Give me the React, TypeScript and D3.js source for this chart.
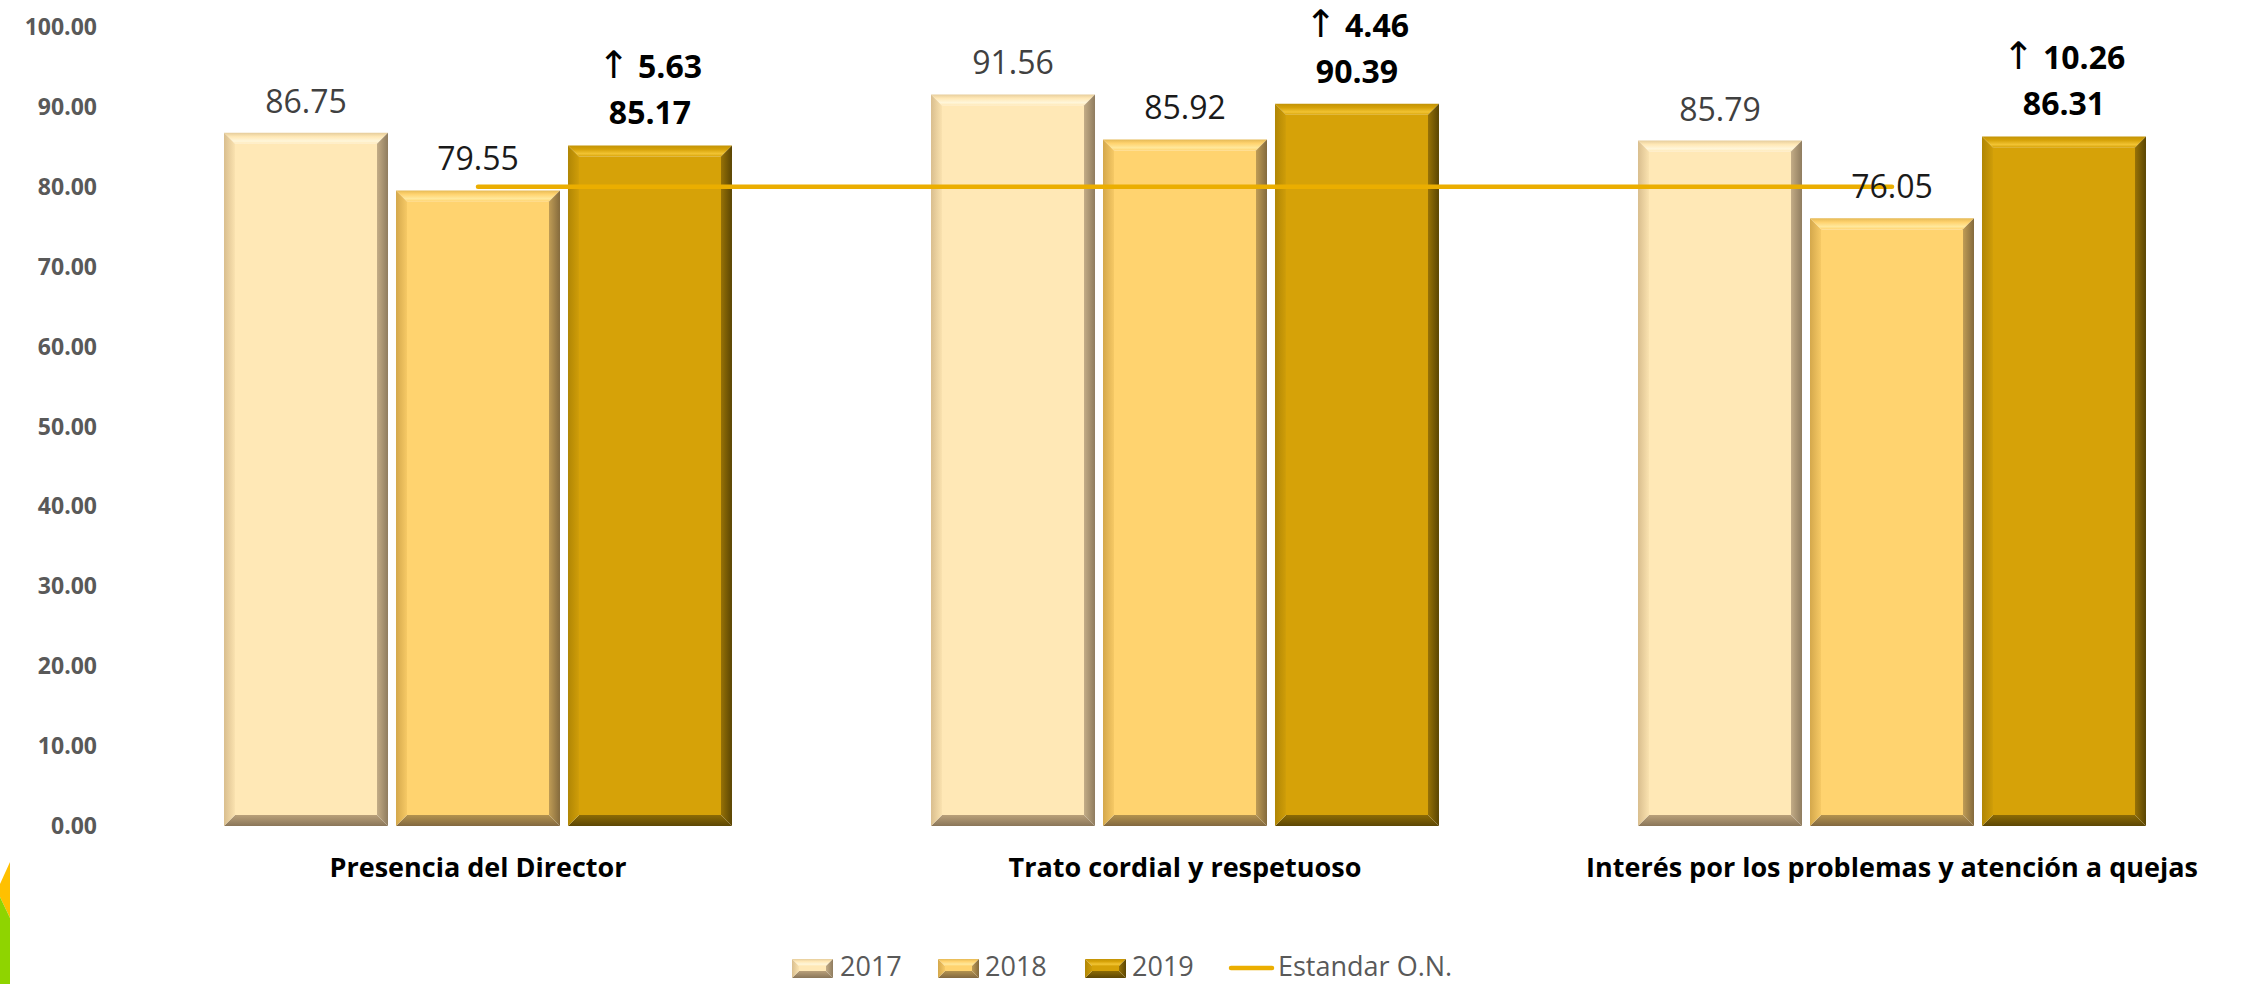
import React from "react";
import * as d3 from "d3";

const categories = [
  "Presencia del Director",
  "Trato cordial y respetuoso",
  "Interés por los problemas y atención a quejas",
];
const seriesNames = ["2017", "2018", "2019"];
const values2017 = [86.75, 91.56, 85.79];
const values2018 = [79.55, 85.92, 76.05];
const values2019 = [85.17, 90.39, 86.31];
const estandar = [80, 80, 80];
const changes2019 = [5.63, 4.46, 10.26];
const yTicks = [0, 10, 20, 30, 40, 50, 60, 70, 80, 90, 100];
const lineName = "Estandar O.N.";

const W = 2244;
const H = 984;
const FONT = "'Open Sans', 'DejaVu Sans', sans-serif";

type Pal = {
  face: string;
  topOuter: string;
  topInner: string;
  leftOuter: string;
  leftInner: string;
  rightOuter: string;
  rightInner: string;
  botOuter: string;
  botInner: string;
};

const palettes: Pal[] = [
  {
    face: "#FFE8B6",
    topOuter: "#E6CD9C",
    topInner: "#FFF6DA",
    leftOuter: "#D9BE8E",
    leftInner: "#FAE2AF",
    rightOuter: "#8F7C5F",
    rightInner: "#C3AC86",
    botOuter: "#8A7659",
    botInner: "#B9A07A",
  },
  {
    face: "#FFD36F",
    topOuter: "#E5B955",
    topInner: "#FFE89C",
    leftOuter: "#D4A84C",
    leftInner: "#F6C965",
    rightOuter: "#846A3D",
    rightInner: "#BF9C55",
    botOuter: "#826840",
    botInner: "#B3924E",
  },
  {
    face: "#D6A208",
    topOuter: "#C29306",
    topInner: "#F2C433",
    leftOuter: "#B08605",
    leftInner: "#CF9D08",
    rightOuter: "#5A4503",
    rightInner: "#977206",
    botOuter: "#5C4604",
    botInner: "#8C6B05",
  },
];

const seriesValues = [values2017, values2018, values2019];

function Bevel({ x, y, w, h, b, idx, prefix }: { x: number; y: number; w: number; h: number; b: number; idx: number; prefix: string }) {
  const bb = Math.min(b, h / 2, w / 2);
  const p = palettes[idx];
  const pts = (arr: number[][]) => arr.map((q) => q.join(",")).join(" ");
  return (
    <g>
      <rect x={x + bb} y={y + bb} width={w - 2 * bb} height={Math.max(0, h - 2 * bb)} fill={p.face} />
      <polygon points={pts([[x, y], [x + w, y], [x + w - bb, y + bb], [x + bb, y + bb]])} fill={`url(#${prefix}top${idx})`} />
      <polygon points={pts([[x, y + h], [x + w, y + h], [x + w - bb, y + h - bb], [x + bb, y + h - bb]])} fill={`url(#${prefix}bot${idx})`} />
      <polygon points={pts([[x, y], [x + bb, y + bb], [x + bb, y + h - bb], [x, y + h]])} fill={`url(#${prefix}left${idx})`} />
      <polygon points={pts([[x + w, y], [x + w - bb, y + bb], [x + w - bb, y + h - bb], [x + w, y + h]])} fill={`url(#${prefix}right${idx})`} />
    </g>
  );
}

function Gradients({ prefix }: { prefix: string }) {
  return (
    <>
      {palettes.map((p, i) => (
        <React.Fragment key={i}>
          <linearGradient id={`${prefix}top${i}`} x1="0" y1="0" x2="0" y2="1">
            <stop offset="0" stopColor={p.topOuter} />
            <stop offset="0.35" stopColor={p.face} />
            <stop offset="0.75" stopColor={p.topInner} />
            <stop offset="1" stopColor={p.face} />
          </linearGradient>
          <linearGradient id={`${prefix}bot${i}`} x1="0" y1="1" x2="0" y2="0">
            <stop offset="0" stopColor={p.botOuter} />
            <stop offset="1" stopColor={p.botInner} />
          </linearGradient>
          <linearGradient id={`${prefix}left${i}`} x1="0" y1="0" x2="1" y2="0">
            <stop offset="0" stopColor={p.leftOuter} />
            <stop offset="1" stopColor={p.leftInner} />
          </linearGradient>
          <linearGradient id={`${prefix}right${i}`} x1="1" y1="0" x2="0" y2="0">
            <stop offset="0" stopColor={p.rightOuter} />
            <stop offset="1" stopColor={p.rightInner} />
          </linearGradient>
        </React.Fragment>
      ))}
    </>
  );
}

export default function App() {
  const x0 = d3
    .scaleBand<string>()
    .domain(categories)
    .range([124.5, 2245.5])
    .paddingInner(0.2815)
    .paddingOuter(0.2815 / 2);
  const x1 = d3
    .scaleBand<string>()
    .domain(seriesNames)
    .range([0, x0.bandwidth()])
    .paddingInner(0.0465)
    .paddingOuter(0);
  const y = d3.scaleLinear().domain([0, 100]).range([826, 27]);
  const fmt = d3.format(".2f");

  const lineGen = d3
    .line<number>()
    .x((_, i) => (x0(categories[i]) as number) + x0.bandwidth() / 2)
    .y((d) => y(d));

  const legendItems = [
    { sx: 792, tx: 840 },
    { sx: 938, tx: 985 },
    { sx: 1085, tx: 1132 },
  ];

  return (
    <svg
      width={W}
      height={H}
      viewBox={`0 0 ${W} ${H}`}
      style={{ position: "absolute", left: 0, top: 0, display: "block", background: "#fff" }}
    >
      <defs>
        <Gradients prefix="g" />
      </defs>
      <rect x={0} y={0} width={W} height={H} fill="#ffffff" />

      {/* decorative corner */}
      <polygon points="10,862 10,918 0,897 0,884" fill="#FFC000" />
      <polygon points="0,897 10,918 10,984 0,984" fill="#8FD400" />

      {/* y axis tick labels */}
      {yTicks.map((t) => (
        <text
          key={t}
          x={97}
          y={y(t)}
          dy="0.35em"
          textAnchor="end"
          fontFamily={FONT}
          fontWeight={700}
          fontSize={23}
          fill="#595959"
        >
          {fmt(t)}
        </text>
      ))}

      {/* bars */}
      {categories.map((c, ci) => (
        <g key={c}>
          {seriesNames.map((s, si) => {
            const v = seriesValues[si][ci];
            const bx = (x0(c) as number) + (x1(s) as number);
            const by = y(v);
            return (
              <Bevel key={s} x={bx} y={by} w={x1.bandwidth()} h={y(0) - by} b={11} idx={si} prefix="g" />
            );
          })}
        </g>
      ))}

      {/* standard line */}
      <path
        d={lineGen(estandar) as string}
        fill="none"
        stroke="#EBAE00"
        strokeWidth={4.5}
        strokeLinecap="round"
      />

      {/* data labels */}
      {categories.map((c, ci) => (
        <g key={`lbl${c}`}>
          {seriesNames.map((s, si) => {
            const v = seriesValues[si][ci];
            const cx = (x0(c) as number) + (x1(s) as number) + x1.bandwidth() / 2;
            if (si < 2) {
              return (
                <text
                  key={s}
                  x={cx}
                  y={y(v) - 20}
                  textAnchor="middle"
                  fontFamily={FONT}
                  fontSize={32}
                  fill={si === 0 ? "#404040" : "#1a1a1a"}
                >
                  {fmt(v)}
                </text>
              );
            }
            return (
              <g key={s}>
                <text
                  x={cx}
                  y={y(v) - 21 - 46}
                  textAnchor="middle"
                  fontFamily={FONT}
                  fontSize={32}
                  fontWeight={700}
                  fill="#000"
                >
                  <tspan fontWeight={400} fontSize={38} fontFamily="'DejaVu Sans', sans-serif">↑</tspan>
                  {" " + fmt(changes2019[ci])}
                </text>
                <text
                  x={cx}
                  y={y(v) - 21}
                  textAnchor="middle"
                  fontFamily={FONT}
                  fontSize={32}
                  fontWeight={700}
                  fill="#000"
                >
                  {fmt(v)}
                </text>
              </g>
            );
          })}
        </g>
      ))}

      {/* category labels */}
      {categories.map((c) => (
        <text
          key={`cat${c}`}
          x={(x0(c) as number) + x0.bandwidth() / 2}
          y={877}
          textAnchor="middle"
          fontFamily={FONT}
          fontWeight={700}
          fontSize={27}
          fill="#000"
        >
          {c}
        </text>
      ))}

      {/* legend */}
      {seriesNames.map((s, i) => (
        <g key={`leg${s}`}>
          <Bevel x={legendItems[i].sx} y={959} w={41} h={19} b={7} idx={i} prefix="g" />
          <text x={legendItems[i].tx} y={976} fontFamily={FONT} fontSize={27} fill="#595959">
            {s}
          </text>
        </g>
      ))}
      <line x1={1231} x2={1272} y1={968} y2={968} stroke="#EBAE00" strokeWidth={4.5} strokeLinecap="round" />
      <text x={1278} y={976} fontFamily={FONT} fontSize={27} fill="#595959">
        {lineName}
      </text>
    </svg>
  );
}
